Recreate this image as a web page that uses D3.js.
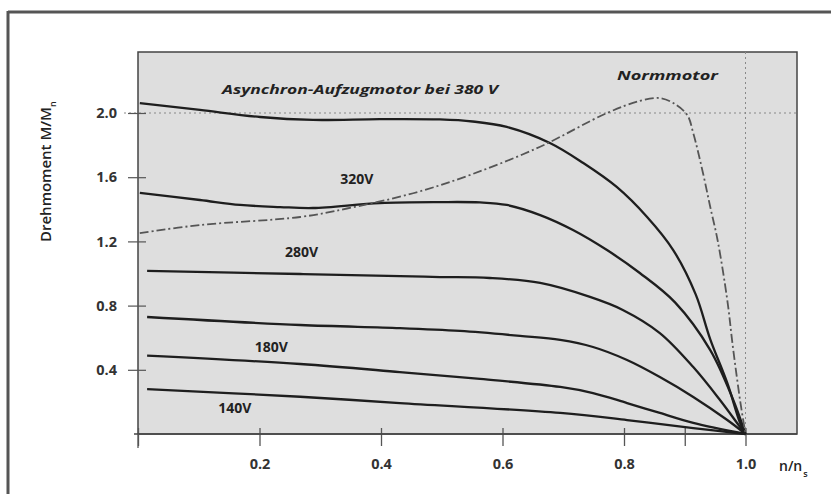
<!DOCTYPE html>
<html><head><meta charset="utf-8">
<script src="https://cdn.jsdelivr.net/npm/d3@7"></script>
<style>
html,body{margin:0;padding:0;background:#fff;}
svg{display:block;font-family:"Open Sans","DejaVu Sans",sans-serif;}
</style></head>
<body>
<svg id="chart" width="831" height="494"></svg>
<script>
// ---- data ----
const xTicks = [0, 0.2, 0.4, 0.6, 0.8, 0.9, 1.0];
const xTickLabels = ["", "0.2", "0.4", "0.6", "0.8", "", "1.0"];
const yTicks = [0.4, 0.8, 1.2, 1.6, 2.0];
const yTickLabels = ["0.4", "0.8", "1.2", "1.6", "2.0"];

const curve380 = [[0.003,2.062],[0.102,2.019],[0.201,1.975],[0.288,1.957],[0.398,1.962],[0.497,1.960],[0.551,1.947],[0.607,1.913],[0.678,1.813],[0.733,1.688],[0.788,1.539],[0.838,1.352],[0.881,1.146],[0.918,0.87],[0.942,0.59],[0.970,0.318],[0.991,0.07],[1.0,0]];
const curve320 = [[0.003,1.502],[0.102,1.458],[0.168,1.427],[0.234,1.414],[0.288,1.408],[0.398,1.439],[0.497,1.445],[0.563,1.443],[0.607,1.427],[0.662,1.364],[0.716,1.271],[0.772,1.146],[0.826,1.003],[0.884,0.82],[0.942,0.523],[0.979,0.22],[1.0,0]];
const curve280 = [[0.015,1.016],[0.267,0.997],[0.431,0.984],[0.497,0.978],[0.579,0.972],[0.662,0.941],[0.744,0.854],[0.798,0.773],[0.859,0.629],[0.914,0.417],[0.958,0.212],[0.991,0.044],[1.0,0]];
const curve220 = [[0.015,0.729],[0.267,0.679],[0.431,0.660],[0.530,0.642],[0.629,0.611],[0.695,0.586],[0.749,0.542],[0.805,0.461],[0.859,0.355],[0.914,0.231],[0.970,0.087],[1.0,0]];
const curve180 = [[0.015,0.488],[0.267,0.436],[0.431,0.386],[0.563,0.343],[0.695,0.293],[0.749,0.255],[0.805,0.193],[0.859,0.131],[0.914,0.069],[1.0,0]];
const curve140 = [[0.015,0.280],[0.267,0.232],[0.431,0.193],[0.695,0.131],[0.805,0.087],[0.914,0.037],[1.0,0]];
const normmotor = [[0.003,1.252],[0.102,1.302],[0.267,1.352],[0.344,1.405],[0.453,1.500],[0.551,1.620],[0.662,1.790],[0.772,2.000],[0.826,2.075],[0.859,2.093],[0.881,2.062],[0.904,1.988],[0.914,1.875],[0.930,1.626],[0.942,1.414],[0.954,1.209],[0.970,0.835],[0.979,0.55],[0.991,0.212],[1.0,0]];

const solidCurves = [curve380, curve320, curve280, curve220, curve180, curve140];
const curveLabels = [
  {text:"320V", x:0.333, v:1.56},
  {text:"280V", x:0.242, v:1.10},
  {text:"180V", x:0.192, v:0.51},
  {text:"140V", x:0.132, v:0.13}
];

// ---- layout ----
const svg = d3.select("#chart");
const L = 138, R = 797, T = 52, B = 434;
const x = d3.scaleLinear().domain([0, 1.0]).range([L, 745.5]);
const y = d3.scaleLinear().domain([0, 2.0]).range([B, 113]);

// outer frame
svg.append("line").attr("x1",8).attr("x2",831).attr("y1",12).attr("y2",12)
  .attr("stroke","#555").attr("stroke-width",3);
svg.append("line").attr("x1",8).attr("x2",8).attr("y1",11).attr("y2",494)
  .attr("stroke","#555").attr("stroke-width",3);

// plot background
svg.append("rect").attr("x",L).attr("y",T).attr("width",R-L).attr("height",B-T)
  .attr("fill","#dedede").attr("stroke","#444").attr("stroke-width",1.5);

// reference dotted lines
svg.append("line").attr("x1",124).attr("x2",R).attr("y1",y(2.0)).attr("y2",y(2.0))
  .attr("stroke","#888").attr("stroke-width",1).attr("stroke-dasharray","2,3");
svg.append("line").attr("x1",x(1.0)).attr("x2",x(1.0)).attr("y1",T).attr("y2",B)
  .attr("stroke","#888").attr("stroke-width",1).attr("stroke-dasharray","2,3");

// x axis
const xAxis = d3.axisBottom(x).tickValues(xTicks)
  .tickFormat((d,i)=>xTickLabels[i]).tickSize(14).tickSizeOuter(0);
const gx = svg.append("g").attr("transform",`translate(0,${B-4})`).call(xAxis);
gx.select(".domain").remove();
gx.selectAll(".tick line").attr("stroke","#555").attr("stroke-width",1.3).attr("y1",-2).attr("y2",16);
gx.selectAll(".tick text").attr("y",29).attr("font-size",14.5).attr("font-weight",700)
  .attr("fill","#333").attr("font-family","'Open Sans',sans-serif");
svg.append("line").attr("x1",L-4).attr("x2",R).attr("y1",B).attr("y2",B)
  .attr("stroke","#444").attr("stroke-width",1.5);
svg.append("line").attr("x1",L).attr("x2",L).attr("y1",B).attr("y2",448)
  .attr("stroke","#555").attr("stroke-width",1.3);

// y axis
const yAxis = d3.axisLeft(y).tickValues(yTicks)
  .tickFormat((d,i)=>yTickLabels[i]).tickSize(10).tickSizeOuter(0);
const gy = svg.append("g").attr("transform",`translate(${L},0)`).call(yAxis);
gy.select(".domain").remove();
gy.selectAll(".tick line").attr("stroke","#555").attr("stroke-width",1.2).attr("x1",-10).attr("x2",8);
gy.selectAll(".tick text").attr("x",-21).attr("font-size",14.5).attr("font-weight",700)
  .attr("fill","#333").attr("font-family","'Open Sans',sans-serif");

// curves
const line = d3.line().x(d=>x(d[0])).y(d=>y(d[1])).curve(d3.curveCatmullRom.alpha(0.5));
svg.append("g").selectAll("path").data(solidCurves).join("path")
  .attr("d",line).attr("fill","none").attr("stroke","#1e1e1e")
  .attr("stroke-width",2.3).attr("stroke-linejoin","round");
svg.append("path").datum(normmotor).attr("d",line).attr("fill","none")
  .attr("stroke","#555").attr("stroke-width",1.8).attr("stroke-dasharray","9,3,2,3");

// labels
svg.append("text").attr("x",222).attr("y",94).text("Asynchron-Aufzugmotor bei 380 V")
  .attr("font-size",12.5).attr("font-weight",700).attr("font-style","italic")
  .attr("fill","#222").attr("textLength",276).attr("lengthAdjust","spacingAndGlyphs");
svg.append("text").attr("x",617).attr("y",80).text("Normmotor")
  .attr("font-size",12.5).attr("font-weight",700).attr("font-style","italic")
  .attr("fill","#222").attr("textLength",101).attr("lengthAdjust","spacingAndGlyphs");
svg.append("g").selectAll("text").data(curveLabels).join("text")
  .attr("x",d=>x(d.x)).attr("y",d=>y(d.v)).text(d=>d.text)
  .attr("font-size",14).attr("font-weight",700).attr("fill","#222");

// axis titles
const yl = svg.append("text").attr("transform","translate(51,242) rotate(-90)")
  .attr("font-size",15).attr("font-weight",600).attr("fill","#222");
yl.append("tspan").text("Drehmoment M/M");
yl.append("tspan").text("n").attr("font-size",9).attr("dy",5);

const xl = svg.append("text").attr("x",779).attr("y",471)
  .attr("font-size",14).attr("font-weight",600).attr("fill","#222");
xl.append("tspan").text("n/n");
xl.append("tspan").text("s").attr("font-size",9).attr("dy",6).attr("dx",1);
</script>
</body></html>
